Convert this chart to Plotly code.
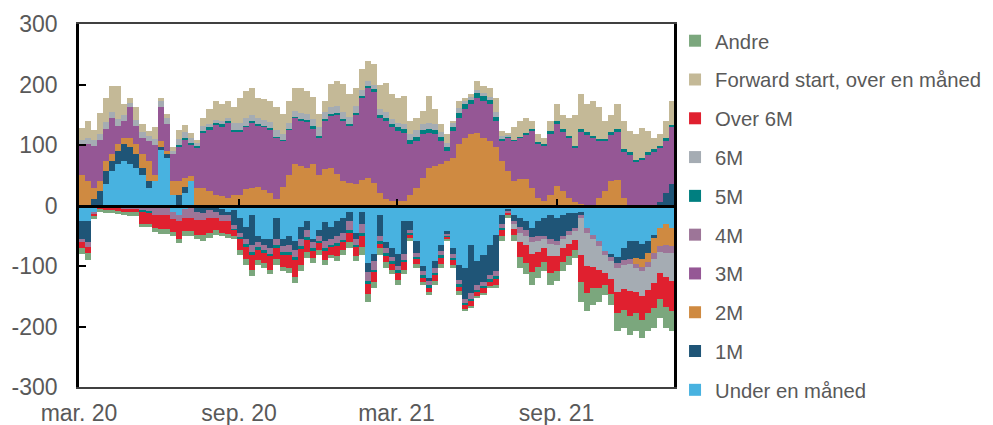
import pandas as pd
import plotly.graph_objects as go

dates = pd.date_range("2020-03-04", periods=98, freq="7D")

series_names = ["Under en måned", "1M", "2M", "3M", "4M", "5M", "6M",
                "Over 6M", "Forward start, over en måned", "Andre"]
series_colors = ["#48B2E0", "#1F5577", "#CF8A41", "#955795", "#9D7598",
                 "#007F80", "#A5ACB3", "#E0202F", "#C4B997", "#7BA77D"]

uem_pos = [0, 0, 0, 0, 35, 57, 68, 73, 68, 62, 51, 29, 40, 93, 79, 18, 0, 20, 40, 0, 0, 0, 0, 0, 0,
           0, 0, 0, 0, 0, 0, 0, 0, 0, 0, 0, 0, 0, 0, 0, 0, 0, 0, 0, 0, 0, 0, 0, 0,
           0, 0, 0, 0, 0, 0, 0, 0, 0, 0, 0, 0, 0, 0, 0, 0, 0, 0, 0, 0, 0, 0, 0, 0, 0,
           0, 0, 0, 0, 0, 0, 0, 0, 0, 0, 0, 0, 0, 0, 0, 0, 0, 0, 0, 0, 0, 0, 0, 0]
uem_neg = [-25, -25, -10, 0, 0, 0, 0, 0, 0, 0, 0, 0, 0, 0, 0, -10, -15, -5, 0, 0, 0, 0, -3, -5, -10,
           -8, -20, -35, -15, -50, -55, -55, -20, -55, -50, -58, -35, -25, -55, -40, -28, -35, -25, -20, -10, -45, -10, -95, -80,
           -15, -60, -70, -80, -25, -25, -58, -100, -120, -92, -65, -42, -70, -98, -104, -65, -92, -81, -65, -48, -15, -7, -15, -20, -25,
           -37, -26, -20, -15, -20, -15, -12, -12, -10, -37, -48, -59, -76, -80, -85, -70, -59, -59, -64, -59, -48, -37, -31, -37]

m1_pos = [0, 0, 10, 24, 22, 16, 22, 28, 28, 23, 11, 11, 0, 3, 6, 0, 18, 10, 0, 0, 0, 0, 0, 0, 0,
          0, 0, 0, 0, 0, 0, 0, 0, 0, 0, 0, 0, 0, 0, 0, 0, 0, 0, 0, 0, 0, 0, 0, 0,
          0, 0, 0, 0, 0, 0, 0, 0, 0, 0, 0, 0, 0, 0, 0, 0, 0, 0, 0, 0, 0, 0, 0, 0, 0,
          0, 0, 0, 0, 0, 0, 0, 0, 0, 0, 0, 0, 0, 0, 0, 0, 0, 0, 0, 0, 0, 5, 20, 35]
m1_neg = [-30, -35, 0, 0, 0, 0, 0, 0, 0, 0, 0, 0, 0, 0, 0, 0, 0, 0, 0, -10, -12, -8, -8, -10, -5,
          -25, -25, -20, -50, -10, -10, -15, -35, -12, -15, -15, -20, -15, -5, -10, -30, -20, -25, -25, -15, -10, -20, -15, -12,
          -35, -10, -15, -20, -55, -15, -20, -8, -5, -12, -10, -5, -10, -25, -50, -80, -40, -45, -50, -60, -15, -3, -10, -15, -15,
          -15, -25, -30, -40, -38, -35, -30, -25, -5, 0, 0, 0, 0, -5, -10, -20, -30, -28, -25, -20, -5, 0, 0, 0]

m2_pos = [50, 40, 19, 16, 16, 12, 11, 11, 16, 16, 23, 33, 10, 11, 5, 22, 22, 16, 8, 29, 29, 24, 18, 15, 13,
          18, 18, 27, 29, 31, 26, 20, 10, 30, 51, 68, 65, 62, 68, 51, 60, 62, 52, 40, 38, 35, 42, 46, 38,
          20, 10, 8, 7, 7, 18, 29, 46, 62, 65, 68, 73, 79, 101, 112, 118, 120, 112, 107, 96, 73, 57, 40, 43, 43,
          29, 13, 8, 18, 32, 24, 13, 5, 2, 0, 0, 13, 24, 40, 42, 13, 0, 0, 0, 0, 0, 0, 0, 0]
m2_neg = [0, 0, 0, 0, 0, 0, 0, 0, 0, 0, 0, 0, 0, 0, 0, 0, 0, 0, 0, 0, 0, 0, 0, 0, 0,
          0, 0, 0, 0, 0, 0, 0, 0, 0, 0, 0, 0, 0, 0, 0, 0, 0, 0, 0, 0, 0, 0, 0, 0,
          0, 0, 0, 0, 0, 0, 0, 0, 0, 0, 0, 0, 0, 0, 0, 0, 0, 0, 0, 0, 0, 0, 0, 0, 0,
          0, 0, 0, 0, 0, 0, 0, 0, 0, 0, 0, 0, 0, 0, 0, 0, 0, -10, -12, -15, -25, -30, -35, -30]

m3_pos = [50, 61, 69, 69, 53, 60, 30, 28, 50, 30, 27, 34, 50, 55, 44, 45, 58, 63, 53, 67, 91, 102, 116, 116, 124,
          105, 105, 103, 108, 102, 104, 106, 102, 77, 74, 77, 75, 77, 60, 61, 80, 86, 98, 100, 94, 115, 136, 149, 151,
          125, 130, 121, 116, 113, 83, 78, 72, 58, 53, 39, 17, 44, 44, 47, 49, 58, 61, 60, 44, 34, 55, 67, 69, 75,
          94, 88, 90, 100, 102, 99, 99, 91, 121, 118, 112, 94, 83, 78, 81, 77, 85, 73, 76, 85, 90, 91, 87, 94]

m4_neg = [-5, -8, -4, -4, -4, -4, -4, -5, -5, -5, -8, -10, -15, -15, -15, -12, -10, -15, -20, -14, -12, -12, -10, -10, -10,
          -6, -8, -10, -12, -10, -10, -10, -10, -10, -12, -12, -12, -12, -10, -8, -12, -10, -12, -12, -15, -10, -15, -15, -14,
          -10, -10, -8, -8, -10, -6, -8, -8, -8, -8, -8, -4, -8, -8, -8, -10, -8, -8, -8, -10, -8, -3, -6, -10, -10,
          -8, -8, -6, -8, -8, -6, -6, -5, -6, -8, -8, -8, -6, -6, -8, -8, -8, -6, -8, -8, -10, -10, -12, -12]

m5_pos = [0, 0, 0, 0, 0, 0, 0, 0, 0, 0, 0, 0, 0, 0, 0, 0, 2, 2, 2, 2, 3, 3, 3, 3, 2,
          2, 2, 2, 2, 2, 2, 2, 2, 2, 2, 2, 3, 3, 3, 3, 3, 3, 3, 3, 3, 3, 3, 3, 3,
          5, 5, 6, 6, 7, 7, 7, 7, 7, 6, 6, 6, 6, 8, 8, 8, 8, 8, 8, 6, 3, 2, 2, 2, 2,
          4, 4, 4, 5, 5, 3, 3, 3, 3, 3, 3, 3, 3, 3, 3, 3, 3, 3, 3, 3, 3, 3, 4, 4]
m5_neg = [0, 0, 0, 0, 0, 0, 0, 0, 0, 0, -2, -2, 0, 0, 0, 0, 0, 0, 0, 0, 0, 0, 0, 0, 0,
          -2, -3, -3, -5, -3, -3, -4, -5, -5, -5, -5, -5, -5, -5, -4, -5, -4, -5, -4, -5, -4, -5, -4, -4,
          -3, -3, -3, -3, -4, -2, -3, -3, -3, -3, -3, -2, -2, -3, -3, -3, -3, -3, -3, -3, -3, -1, 0, 0, 0,
          0, 0, 0, 0, 0, 0, 0, 0, 0, 0, 0, 0, 0, 0, 0, 0, 0, 0, 0, 0, 0, 0, 0, 0]

m6_pos = [8, 10, 10, 10, 12, 10, 12, 10, 8, 10, 10, 8, 10, 10, 10, 5, 10, 10, 8, 5, 8, 5, 5, 5, 5,
          12, 12, 12, 10, 10, 10, 10, 10, 10, 10, 10, 10, 10, 12, 15, 12, 12, 12, 12, 12, 12, 10, 8, 8,
          10, 10, 8, 8, 8, 10, 10, 10, 10, 10, 8, 8, 8, 8, 5, 4, 5, 5, 5, 8, 5, 2, 0, 0, 0,
          0, 0, 0, 0, 0, 0, 0, 0, 0, 0, 0, 0, 0, 0, 0, 0, 0, 0, 0, 0, 0, 0, 0, 0]
m6_neg = [0, 0, 0, 0, 0, 0, 0, 0, 0, 0, 0, 0, 0, 0, 0, 0, 0, 0, 0, 0, 0, 0, 0, 0, 0,
          0, 0, 0, 0, 0, 0, 0, 0, 0, 0, 0, 0, 0, 0, 0, 0, 0, 0, 0, 0, 0, 0, 0, 0,
          0, 0, 0, 0, 0, 0, 0, 0, 0, 0, 0, 0, 0, 0, 0, 0, 0, 0, 0, 0, 0, 0, -8, -15, -15,
          -20, -18, -15, -20, -18, -15, -15, -15, -60, -55, -45, -40, -30, -30, -40, -40, -45, -40, -40, -38, -40, -35, -40, -45]

o6m_neg = [-10, -10, -4, -3, -4, -4, -5, -5, -6, -6, -20, -18, -22, -24, -24, -22, -30, -22, -22, -24, -25, -25, -20, -20, -22,
           -10, -17, -20, -25, -17, -17, -22, -18, -19, -22, -28, -27, -20, -12, -12, -15, -12, -17, -12, -15, -15, -18, -18, -16,
           -8, -10, -10, -12, -12, -6, -8, -7, -7, -10, -10, -3, -8, -8, -6, -8, -6, -7, -7, -10, -10, -3, -10, -25, -30,
           -30, -25, -22, -28, -24, -22, -20, -17, -45, -45, -36, -30, -20, -25, -35, -35, -40, -35, -40, -38, -42, -42, -50, -50]

fwd_pos = [20, 29, 17, 34, 40, 43, 55, 17, 8, 21, 12, 8, 19, 6, 7, 6, 15, 12, 9, 6, 14, 25, 31, 28, 29,
           25, 41, 46, 46, 33, 34, 35, 38, 32, 36, 38, 42, 38, 36, 21, 18, 38, 41, 46, 37, 30, 34, 33, 34,
           40, 48, 41, 41, 46, 22, 21, 21, 44, 25, 13, 14, 3, 12, 6, 5, 15, 12, 15, 24, 8, 4, 20, 26, 25,
           13, 13, 10, 17, 28, 24, 30, 51, 58, 46, 57, 52, 30, 29, 41, 47, 35, 42, 49, 35, 19, 19, 29, 40]

andre_neg = [-10, -12, -4, -3, -4, -5, -5, -6, -6, -7, -5, -6, -6, -8, -8, -6, -7, -8, -8, -8, -10, -9, -7, -6, -7,
             -5, -8, -10, -10, -8, -8, -8, -10, -8, -8, -10, -10, -10, -8, -7, -8, -6, -8, -8, -10, -8, -13, -12, -10,
             -10, -10, -8, -8, -8, -5, -6, -5, -5, -6, -7, -3, -5, -6, -4, -4, -4, -4, -4, -6, -8, -3, -10, -18, -19,
             -21, -18, -16, -20, -17, -16, -15, -13, -33, -30, -27, -22, -16, -18, -30, -30, -32, -30, -30, -30, -33, -32, -35, -34]

tick_dates = ["2020-03-01", "2020-09-01", "2021-03-01", "2021-09-01"]
tick_labels = ["mar. 20", "sep. 20", "mar. 21", "sep. 21"]
y_ticks = [-300, -200, -100, 0, 100, 200, 300]
y_tick_labels = ["-300", "-200", "-100", "0", "100", "200", "300"]

parts = {
    "Under en måned": [uem_pos, uem_neg],
    "1M": [m1_pos, m1_neg],
    "2M": [m2_pos, m2_neg],
    "3M": [m3_pos],
    "4M": [m4_neg],
    "5M": [m5_pos, m5_neg],
    "6M": [m6_pos, m6_neg],
    "Over 6M": [o6m_neg],
    "Forward start, over en måned": [fwd_pos],
    "Andre": [andre_neg],
}

for k, arrs in parts.items():
    for a in arrs:
        if len(a) != len(dates):
            raise ValueError(f"{k}: length {len(a)}")

fig = go.Figure()
n = len(series_names)
for idx, (name, color) in enumerate(zip(series_names, series_colors)):
    for j, vals in enumerate(parts[name]):
        fig.add_trace(go.Bar(
            x=dates, y=vals, name=name, legendgroup=name,
            legendrank=100 + (n - idx),
            showlegend=(j == 0), marker=dict(color=color, line=dict(width=0)),
        ))

# helper overlay axis to draw the zero line with tick marks
fig.add_trace(go.Scatter(x=[], y=[], xaxis="x2", showlegend=False, hoverinfo="skip"))

font_family = "Liberation Sans, Arial, sans-serif"
tick_font = dict(family=font_family, size=23, color="#595959")

# the page body has an 8px default margin, so the figure is sized to fit the window
fig.update_layout(
    width=985, height=417,
    margin=dict(l=71, r=319, t=16, b=38, autoexpand=False),
    barmode="relative", bargap=0,
    plot_bgcolor="white", paper_bgcolor="white",
    xaxis=dict(
        type="date", range=["2020-03-01", "2022-01-14"],
        tickvals=tick_dates, ticktext=tick_labels, ticks="",
        tickfont=tick_font, showgrid=False, zeroline=False,
        showline=True, linecolor="#404040", linewidth=1.5, mirror=True,
        ticklabelstandoff=5, automargin=False,
    ),
    xaxis2=dict(
        type="date", range=["2020-03-01", "2022-01-14"], overlaying="x",
        anchor="free", position=0.5, tickvals=tick_dates, ticks="inside",
        ticklen=6, tickwidth=2, tickcolor="black", showticklabels=False,
        showline=True, linecolor="black", linewidth=2.5, showgrid=False,
        zeroline=False, layer="above traces", automargin=False,
    ),
    yaxis=dict(
        range=[-300, 300], tickvals=y_ticks, ticktext=y_tick_labels,
        ticks="inside", ticklen=7,
        tickwidth=2, tickcolor="black", tickfont=tick_font,
        showgrid=False, zeroline=False, showline=True, linecolor="black",
        linewidth=2.5, mirror=True, ticklabelstandoff=14, automargin=False,
    ),
    legend=dict(
        xref="container", yref="container",
        x=0.6772, y=0.9688, xanchor="left", yanchor="top",
        traceorder="grouped", tracegroupgap=9.4, itemwidth=30, maxheight=415,
        font=dict(family=font_family, size=20.3, color="#595959"),
        bgcolor="rgba(0,0,0,0)",
    ),
)

fig.write_html("out.html")
